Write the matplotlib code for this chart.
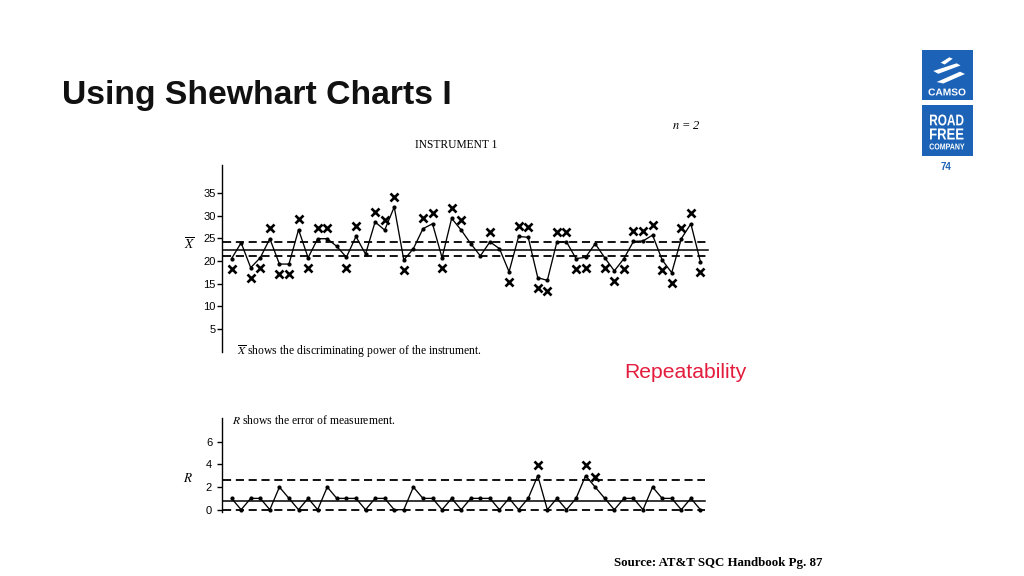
import numpy as np
import matplotlib
matplotlib.use("Agg")
import matplotlib.pyplot as plt
import matplotlib.transforms as mtransforms
from matplotlib.textpath import TextPath
from matplotlib.patches import PathPatch, Rectangle, Polygon
from matplotlib.font_manager import FontProperties
from matplotlib.transforms import Affine2D

# X-bar values, instrument 1 (n = 2)
xbar = [20.5, 24.0, 18.5, 20.7, 24.9, 19.3, 19.3, 26.9, 20.7, 24.9,
        24.9, 23.2, 20.8, 25.4, 21.5, 28.6, 26.8, 31.9, 20.2, 22.7,
        27.1, 28.2, 20.7, 29.4, 26.8, 23.8, 21.1, 24.2, 22.7, 17.6,
        25.4, 25.2, 16.3, 15.7, 24.2, 24.2, 20.5, 20.8, 23.8, 20.7,
        17.8, 20.5, 24.3, 24.4, 25.7, 20.2, 17.4, 24.9, 28.2, 19.8]
xbar_cl, xbar_ucl, xbar_lcl = 22.5, 24.1, 21.0

# ranges
r_vals = [1, 0, 1, 1, 0, 2, 1, 0, 1, 0,
          2, 1, 1, 1, 0, 1, 1, 0, 0, 2,
          1, 1, 0, 1, 0, 1, 1, 1, 0, 1,
          0, 1, 3, 0, 1, 0, 1, 3, 2, 1,
          0, 1, 1, 0, 2, 1, 1, 0, 1, 0]
r_cl, r_ucl, r_lcl = 0.8, 2.65, 0.0
r_flagged = [33, 38, 39]   # samples marked with X on the range chart

xbar_ticks = [5, 10, 15, 20, 25, 30, 35]
r_ticks = [0, 2, 4, 6]

W, H = 1024, 576
plt.rcParams['mathtext.fontset'] = 'stix'
serif = 'Liberation Serif'
sans = 'Liberation Sans'

fig = plt.figure(figsize=(W / 100, H / 100), dpi=100)
fig.patch.set_facecolor('white')


def px_axes(x0, x1, ytop, ybot):
    return fig.add_axes([x0 / W, 1 - ybot / H, (x1 - x0) / W, (ybot - ytop) / H])


def style_axes(ax, ticks, pad):
    for s in ['top', 'right', 'bottom']:
        ax.spines[s].set_visible(False)
    ax.spines['left'].set_linewidth(1.0)
    ax.set_xticks([])
    ax.set_yticks(ticks)
    ax.tick_params(axis='y', direction='out', length=3.6, width=1.0, pad=pad,
                   labelsize=8)
    for lab in ax.get_yticklabels():
        lab.set_fontfamily(sans)
    ax.patch.set_alpha(0)


def control_chart(ax, vals, cl, ucl, lcl, xmax):
    idx = np.arange(1, len(vals) + 1)
    ax.axhline(cl, xmin=0.002, xmax=xmax, color='k', lw=1.1)
    for lim in (ucl, lcl):
        ax.axhline(lim, xmin=0.002, xmax=xmax, color='k', lw=1.3,
                   linestyle=(0, (4.5, 2.6)))
    ax.plot(idx, vals, color='k', lw=0.95, marker='o', ms=2.0, clip_on=False)
    return idx


def mark_x(ax, xs, ys, up):
    off = mtransforms.offset_copy(ax.transData, fig=fig, x=0,
                                  y=7.4 if up else -7.4, units='points')
    ax.plot(xs, ys, linestyle='none', marker='x', ms=5.5, mew=1.9,
            color='k', transform=off, clip_on=False)


# ---- X-bar chart ----
ax1 = px_axes(222, 710, 165, 351.5)
ax1.set_xlim(0, 51)
ax1.set_ylim(0, (351.5 - 165) / 4.53)
style_axes(ax1, xbar_ticks, 1)
idx = control_chart(ax1, xbar, xbar_cl, xbar_ucl, xbar_lcl, 0.996)
xb = np.array(xbar)
mark_x(ax1, idx[xb > xbar_ucl], xb[xb > xbar_ucl], True)
mark_x(ax1, idx[xb < xbar_lcl], xb[xb < xbar_lcl], False)

# ---- R chart ----
ax2 = px_axes(222, 710, 418, 512)
ax2.set_xlim(0, 51)
ax2.set_ylim((509.7 - 512) / 11.33, (509.7 - 418) / 11.33)
style_axes(ax2, r_ticks, 3.5)
ridx = control_chart(ax2, r_vals, r_cl, r_ucl, r_lcl, 0.99)
rv = np.array(r_vals)
fl = np.array(r_flagged)
mark_x(ax2, fl, rv[fl - 1], True)

# ---- overlay for slide texts ----
ov = fig.add_axes([0, 0, 1, 1])
ov.set_xlim(0, W)
ov.set_ylim(H, 0)
ov.axis('off')
ov.patch.set_alpha(0)

ov.text(62, 104, 'Using Shewhart Charts I', fontsize=24.3, fontweight='bold',
        family=sans, va='baseline', ha='left', color='#111111')
ov.text(415, 145, 'INSTRUMENT 1', fontsize=8.3, family=serif, va='center',
        ha='left')
ov.text(672, 126, r'$n$ = 2', fontsize=9, family=serif, style='italic',
        va='center', ha='left')
ov.text(190, 245, r'$\overline{X}$', fontsize=9.5, va='center', ha='center')
ov.text(237, 351.5, r'$\overline{X}$ shows the discriminating power of the instrument.',
        fontsize=8.4, family=serif, va='center', ha='left')
ov.text(232, 420, r'$R$ shows the error of measurement.', fontsize=8.4,
        family=serif, va='center', ha='left')
ov.text(188, 478, r'$R$', fontsize=9.5, va='center', ha='center')
ov.text(624, 372, 'Repeatability', fontsize=15.2, family=sans, color='#e31c3d',
        va='center', ha='left')
ov.text(614, 563, 'Source: AT&T SQC Handbook Pg. 87', fontsize=9.3, family=serif,
        fontweight='bold', va='center', ha='left')

# ---- logo ----
blue = '#1c63b7'
ov.add_patch(Rectangle((922, 50), 50.5, 50, fc=blue, ec='none'))
ov.add_patch(Rectangle((922, 105), 50.5, 50.5, fc=blue, ec='none'))
for pts in ([(940.7, 62.7), (949.3, 57.3), (952.7, 58.7), (944.7, 64.5)],
            [(933.3, 71.0), (956.7, 63.3), (960.5, 65.5), (938.3, 73.8)],
            [(936.7, 82.0), (960.0, 71.7), (965.0, 74.0), (943.3, 83.5)]):
    ov.add_patch(Polygon(pts, closed=True, fc='white', ec='none'))


def fit_text(s, x0, x1, ytop, ybot, color):
    tp = TextPath((0, 0), s, size=1, prop=FontProperties(family=sans, weight='bold'))
    bb = tp.get_extents()
    tr = Affine2D().translate(-bb.x0, -bb.y0).scale((x1 - x0) / bb.width,
                                                   -(ybot - ytop) / bb.height)
    tr = tr.translate(x0, ybot)
    ov.add_patch(PathPatch(tr.transform_path(tp), fc=color, ec='none', lw=0))


fit_text('CAMSO', 928.5, 965.5, 88.5, 95.5, 'white')
fit_text('ROAD', 930, 963.5, 114.5, 125.5, 'white')
fit_text('FREE', 930, 963.5, 128.5, 139.5, 'white')
fit_text('COMPANY', 929.5, 964.5, 143.5, 149.5, 'white')
ov.text(946.5, 166.5, '74', fontsize=7, family=sans, fontweight='bold', color=blue,
        va='center', ha='center')

fig.savefig('out.png', dpi=100, facecolor='white')
